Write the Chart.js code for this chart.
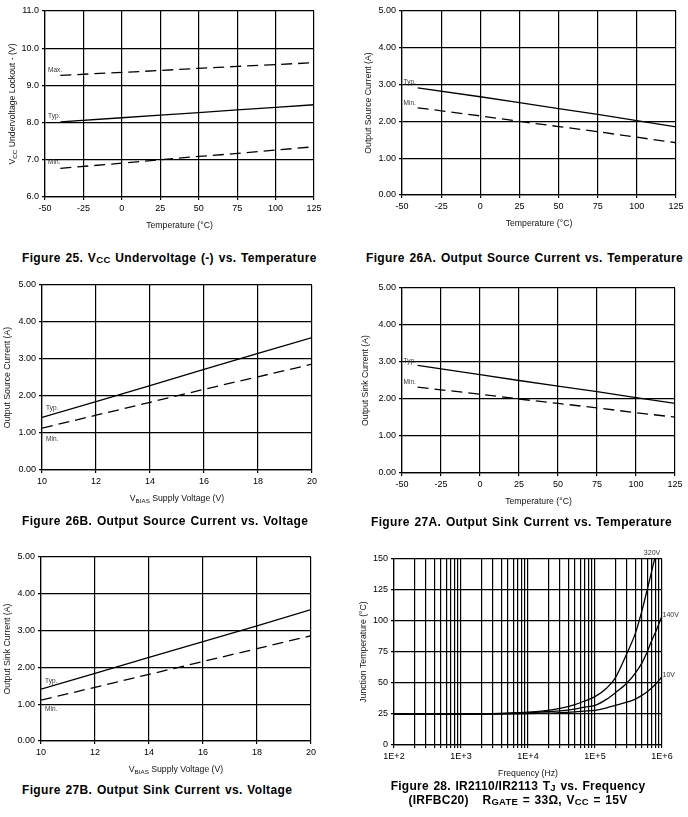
<!DOCTYPE html>
<html>
<head>
<meta charset="utf-8">
<script src="https://cdn.jsdelivr.net/npm/chart.js@4.4.0/dist/chart.umd.min.js"></script>
<style>
  html, body { margin: 0; padding: 0; background: #fff; }
  body { width: 688px; height: 817px; position: relative; overflow: hidden;
         font-family: 'Liberation Sans', Arial, sans-serif; }
  canvas { position: absolute; }
  .cap { position: absolute; font-weight: bold; font-size: 12px; line-height: 14px;
         letter-spacing: .35px; word-spacing: 1px; white-space: nowrap; color: #000; }
  .cap sub { font-size: 9.5px; vertical-align: -1px; line-height: 0; }
  .center { text-align: center; letter-spacing: .25px; }
</style>
</head>
<body>
<canvas id="c25"  width="330" height="240" style="left:0;top:0"></canvas>
<canvas id="c26a" width="338" height="240" style="left:350px;top:0"></canvas>
<canvas id="c26b" width="330" height="240" style="left:0;top:275px"></canvas>
<canvas id="c27a" width="338" height="240" style="left:350px;top:275px"></canvas>
<canvas id="c27b" width="330" height="240" style="left:0;top:540px"></canvas>
<canvas id="c28"  width="338" height="240" style="left:350px;top:540px"></canvas>

<div class="cap" style="left:22px;top:251px">Figure 25. V<sub>CC</sub> Undervoltage (-) vs. Temperature</div>
<div class="cap" style="left:366px;top:251px">Figure 26A. Output Source Current vs. Temperature</div>
<div class="cap" style="left:22px;top:514px">Figure 26B. Output Source Current vs. Voltage</div>
<div class="cap" style="left:371px;top:515px">Figure 27A. Output Sink Current vs. Temperature</div>
<div class="cap" style="left:22px;top:783px">Figure 27B. Output Sink Current vs. Voltage</div>
<div class="cap center" style="left:368px;width:300px;top:779px">Figure 28. IR2110/IR2113 T<sub>J</sub> vs. Frequency<br>(IRFBC20)&nbsp;&nbsp; R<sub>GATE</sub> = 33&Omega;, V<sub>CC</sub> = 15V</div>

<script>
// values
const tempC    = [-40, 0, 25, 50, 75, 100, 125];
const uvMax    = [9.27, 9.35, 9.40, 9.46, 9.51, 9.56, 9.61];
const uvTyp    = [8.02, 8.13, 8.20, 8.27, 8.34, 8.41, 8.48];
const uvMin    = [6.77, 6.91, 7.00, 7.09, 7.17, 7.26, 7.35];

const srcTTyp  = [2.91, 2.67, 2.51, 2.35, 2.19, 2.02, 1.85];
const srcTMin  = [2.37, 2.15, 2.00, 1.86, 1.72, 1.57, 1.42];

const vbias    = [10, 12, 14, 16, 18, 20];
const srcVTyp  = [1.42, 1.85, 2.28, 2.72, 3.15, 3.58];
const srcVMin  = [1.13, 1.48, 1.83, 2.18, 2.52, 2.86];

const sinkTTyp = [2.91, 2.66, 2.50, 2.35, 2.20, 2.04, 1.88];
const sinkTMin = [2.32, 2.13, 2.00, 1.88, 1.76, 1.63, 1.51];

const sinkVTyp = [1.41, 1.84, 2.27, 2.70, 3.13, 3.57];
const sinkVMin = [1.11, 1.46, 1.81, 2.16, 2.51, 2.86];

const freqHz   = [1e2, 1e3, 3e3, 1e4, 2e4, 3e4, 5e4, 7e4, 1e5, 1.5e5, 2e5, 3e5, 4e5, 5e5, 6e5, 7e5, 8e5, 1e6];
const tj320V   = [25, 25, 25.3, 26.5, 28, 29.5, 32.5, 35.5, 39, 46, 54, 74, 90, 108, 125, 140, 153, null];
const tj140V   = [25, 25, 25.2, 26, 27, 27.5, 29, 30.5, 32, 37, 42, 50, 58, 66, 75, 84, 91, 104];
const tj10V    = [25, 25, 25, 25.3, 25.7, 26, 26.7, 27.3, 28, 30, 32, 34.5, 37, 40, 43, 46, 49, 55];

const decades     = [1e2, 1e3, 1e4, 1e5, 1e6];
const decadeNames = ['1E+2', '1E+3', '1E+4', '1E+5', '1E+6'];
const minorSteps  = [1, 2, 3, 4, 5, 6, 7, 8, 9];

const FONT = "'Liberation Sans', Arial, sans-serif";

function drawRich(ctx, segs, cx, cy, size) {
  const fontOf = s => (s[1] ? size * 0.72 : size) + 'px ' + FONT;
  let w = 0;
  segs.forEach(s => { ctx.font = fontOf(s); w += ctx.measureText(s[0]).width; });
  let xx = cx - w / 2;
  ctx.textAlign = 'left';
  ctx.textBaseline = 'alphabetic';
  segs.forEach(s => {
    ctx.font = fontOf(s);
    ctx.fillText(s[0], xx, cy + size * 0.35 + (s[1] ? size * 0.2 : 0));
    xx += ctx.measureText(s[0]).width;
  });
}

const sheetText = {
  id: 'sheetText',
  afterDraw(chart, args, o) {
    const { ctx, chartArea: a, scales: { x, y } } = chart;
    ctx.save();
    ctx.fillStyle = '#111';
    drawRich(ctx, o.xTitle, (a.left + a.right) / 2, a.bottom + 28, 8.7);
    ctx.save();
    ctx.translate(a.left - (o.yOff || 34), (a.top + a.bottom) / 2);
    ctx.rotate(-Math.PI / 2);
    drawRich(ctx, o.yTitle, 0, 0, 8.7);
    ctx.restore();
    ctx.fillStyle = '#333';
    (o.labels || []).forEach(l => {
      ctx.font = (l.size || 6.5) + 'px ' + FONT;
      ctx.textAlign = l.align || 'left';
      ctx.textBaseline = 'middle';
      ctx.fillText(l.text, x.getPixelForValue(l.x), y.getPixelForValue(l.y));
    });
    ctx.restore();
  }
};

function pairs(xs, ys) { return xs.map((v, i) => ({ x: v, y: ys[i] })); }

function series(xs, ys, dashed, smooth) {
  return {
    data: pairs(xs, ys), borderColor: '#000', borderWidth: 1.3,
    borderDash: dashed ? [11, 6] : [], pointRadius: 0, fill: false,
    tension: 0, cubicInterpolationMode: smooth ? 'monotone' : 'default', spanGaps: false
  };
}

function axis(extra, fit) {
  return Object.assign({
    type: 'linear',
    grid: { color: '#000', lineWidth: 1.2, tickLength: 3, tickColor: '#000' },
    border: { color: '#000', width: 1.2 },
    afterFit: fit
  }, extra, {
    ticks: Object.assign({ color: '#000', font: { family: FONT, size: 9 }, padding: 3,
                           maxRotation: 0, autoSkip: false }, extra.ticks || {})
  });
}

function makeChart(id, f) {
  new Chart(document.getElementById(id), {
    type: 'line',
    data: { datasets: f.datasets },
    options: {
      responsive: false, animation: false,
      layout: { padding: { top: f.pad[0], right: f.pad[1], bottom: 0, left: 0 } },
      plugins: { legend: { display: false }, tooltip: { enabled: false }, sheetText: f.text },
      scales: {
        x: axis(f.x, s => { s.height = f.xH; }),
        y: axis(f.y, s => { s.width = f.yW; })
      }
    },
    plugins: [sheetText]
  });
}

const tempAxis = { min: -50, max: 125, ticks: { stepSize: 25 } };
const ampAxis  = { min: 0, max: 5, ticks: { stepSize: 1, callback: v => v.toFixed(2) } };
const voltAxis = { min: 10, max: 20, ticks: { stepSize: 2 } };
const tempTitle = [['Temperature (°C)']];
const vbiasTitle = [['V'], ['BIAS', 1], [' Supply Voltage (V)']];

makeChart('c25', {
  pad: [11, 16], yW: 45, xH: 43,
  x: tempAxis,
  y: { min: 6, max: 11, ticks: { stepSize: 1, callback: v => v.toFixed(1) } },
  datasets: [series(tempC, uvMax, true), series(tempC, uvTyp, false), series(tempC, uvMin, true)],
  text: { xTitle: tempTitle, yTitle: [['V'], ['CC', 1], [' Undervoltage Lockout - (V)']], yOff: 33,
          labels: [{ text: 'Max.', x: -48, y: 9.41 }, { text: 'Typ.', x: -48, y: 8.18 },
                   { text: 'Min.', x: -48, y: 6.94 }] }
});

makeChart('c26a', {
  pad: [11, 12], yW: 52, xH: 45,
  x: tempAxis, y: ampAxis,
  datasets: [series(tempC, srcTTyp, false), series(tempC, srcTMin, true)],
  text: { xTitle: tempTitle, yTitle: [['Output Source Current (A)']], yOff: 34,
          labels: [{ text: 'Typ.', x: -49, y: 3.07 }, { text: 'Min.', x: -49, y: 2.5 }] }
});

makeChart('c26b', {
  pad: [10, 18], yW: 42, xH: 45,
  x: voltAxis, y: ampAxis,
  datasets: [series(vbias, srcVTyp, false), series(vbias, srcVMin, true)],
  text: { xTitle: vbiasTitle, yTitle: [['Output Source Current (A)']], yOff: 35,
          labels: [{ text: 'Typ.', x: 10.15, y: 1.68 }, { text: 'Min.', x: 10.15, y: 0.84 }] }
});

makeChart('c27a', {
  pad: [13, 13], yW: 52, xH: 42,
  x: tempAxis, y: ampAxis,
  datasets: [series(tempC, sinkTTyp, false), series(tempC, sinkTMin, true)],
  text: { xTitle: tempTitle, yTitle: [['Output Sink Current (A)']], yOff: 37,
          labels: [{ text: 'Typ.', x: -49, y: 3.03 }, { text: 'Min.', x: -49, y: 2.46 }] }
});

makeChart('c27b', {
  pad: [17, 19], yW: 41, xH: 39,
  x: voltAxis, y: ampAxis,
  datasets: [series(vbias, sinkVTyp, false), series(vbias, sinkVMin, true)],
  text: { xTitle: vbiasTitle, yTitle: [['Output Sink Current (A)']], yOff: 34,
          labels: [{ text: 'Typ.', x: 10.15, y: 1.63 }, { text: 'Min.', x: 10.15, y: 0.87 }] }
});

makeChart('c28', {
  pad: [19, 26], yW: 44, xH: 35,
  x: {
    type: 'logarithmic', min: 1e2, max: 1e6,
    afterBuildTicks: s => {
      const t = [];
      decades.slice(0, -1).forEach(d => minorSteps.forEach(m => t.push({ value: d * m })));
      t.push({ value: decades[decades.length - 1] });
      s.ticks = t;
    },
    ticks: { callback: v => { const i = decades.indexOf(v); return i >= 0 ? decadeNames[i] : ''; } }
  },
  y: { min: 0, max: 150, ticks: { stepSize: 25 } },
  datasets: [series(freqHz, tj320V, false, true), series(freqHz, tj140V, false, true),
             series(freqHz, tj10V, false, true)],
  text: { xTitle: [['Frequency (Hz)']], yTitle: [['Junction Temperature (°C)']], yOff: 31,
          labels: [{ text: '320V', x: 7.1e5, y: 155, align: 'center', size: 7 },
                   { text: '140V', x: 1.02e6, y: 105, size: 7 },
                   { text: '10V', x: 1.02e6, y: 56, size: 7 }] }
});
</script>
</body>
</html>
